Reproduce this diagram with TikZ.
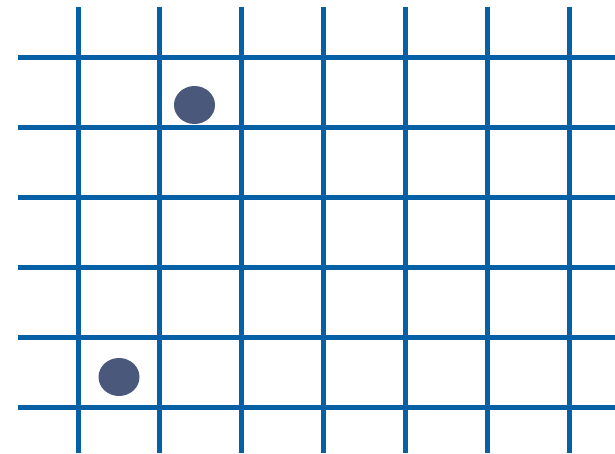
\documentclass[tikz,border=0pt]{standalone}
\usetikzlibrary{shapes.geometric}
\definecolor{gridblue}{RGB}{5,96,166}
\definecolor{dotblue}{RGB}{74,88,124}
\begin{document}
\begin{tikzpicture}[x=1pt,y=-1pt,
  gridline/.style={draw=gridblue,line width=5pt},
  token/.style={ellipse,fill=dotblue,inner sep=0pt,minimum width=41pt,minimum height=38pt}]
\useasboundingbox (0,0) rectangle (615,454);
\foreach \x in {78,159.8,241.7,323.5,405.3,487.2,569}
  \draw[gridline] (\x,7) -- (\x,453);
\foreach \y in {57.5,127.5,197.5,267.5,337.5,407.5}
  \draw[gridline] (18,\y) -- (615,\y);
\node[token] (dotA) at (194.5,105) {};
\node[token] (dotB) at (119,377) {};
\end{tikzpicture}
\end{document}
